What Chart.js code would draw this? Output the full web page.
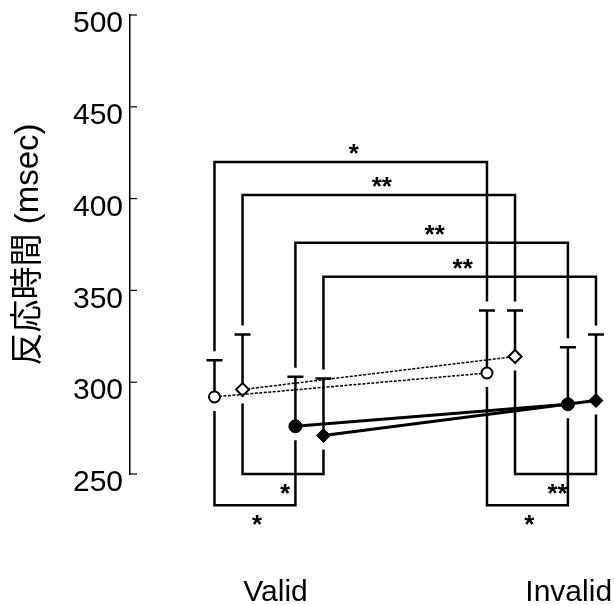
<!DOCTYPE html>
<html><head><meta charset="utf-8">
<script src="https://cdn.jsdelivr.net/npm/chart.js@4.4.0/dist/chart.umd.min.js"></script>
<style>html,body{margin:0;padding:0;background:#fff;}#wrap{width:614px;height:605px;position:relative;}</style>
</head><body><div id="wrap"><canvas id="c" width="614" height="605"></canvas></div>
<script>
// ---- data ----
const conditions = ["Valid", "Invalid"];
const seriesNames = ["Series ○", "Series ◇", "Series ●", "Series ◆"];
const validRT = [292, 296, 276, 271];
const invalidRT = [305, 314, 288, 290];
const validErr = [20, 30, 27, 31];
const invalidErr = [34, 25, 31, 36];
const yTickValues = [250, 300, 350, 400, 450, 500];
// Valid vs Invalid comparisons (one per series)
const condCompLabels = ["*", "**", "**", "**"];
const condCompLevels = [420, 402, 376, 357.5];
// within-condition comparisons: [seriesA, seriesB]
const groupPairs = [[0, 2], [1, 3]];
const groupLevels = [233, 250];
const validPairLabels = ["*", "*"];
const invalidPairLabels = ["*", "**"];

// ---- layout settings ----
const seriesOffset = [-0.2, -0.097, 0.097, 0.2];
const labelShift = [0.024, 0.1];
const styles = [
  {pointStyle: 'circle', bg: '#fff', r: 5.5, lw: 1.5, dash: [3, 1.5], bw: 2},
  {pointStyle: 'rectRot', bg: '#fff', r: 6.5, lw: 1.5, dash: [3, 1.5], bw: 2},
  {pointStyle: 'circle', bg: '#000', r: 6.5, lw: 3, dash: [], bw: 1},
  {pointStyle: 'rectRot', bg: '#000', r: 7, lw: 3, dash: [], bw: 1}
];

const datasets = seriesNames.map((name, i) => ({
  label: name,
  data: [
    {x: 1 + seriesOffset[i], y: validRT[i]},
    {x: 2 + seriesOffset[i], y: invalidRT[i]}
  ],
  borderColor: '#000',
  borderWidth: styles[i].lw,
  borderDash: styles[i].dash,
  pointStyle: styles[i].pointStyle,
  pointRadius: styles[i].r,
  pointBackgroundColor: styles[i].bg,
  pointBorderColor: '#000',
  pointBorderWidth: styles[i].bw,
  showLine: true,
  tension: 0,
  clip: false
}));

function centeredText(ctx, text, x, yc) {
  const m = ctx.measureText(text);
  const asc = m.actualBoundingBoxAscent, desc = m.actualBoundingBoxDescent;
  ctx.fillText(text, x, yc + (asc - desc) / 2);
}

const annotations = {
  id: 'annotations',
  beforeDatasetsDraw(chart) {
    const {ctx} = chart;
    const xs = chart.scales.x, ys = chart.scales.y;
    const px = (cond, s) => xs.getPixelForValue(cond + 1 + seriesOffset[s]);
    const vals = [validRT, invalidRT];
    const errs = [validErr, invalidErr];
    ctx.save();
    ctx.strokeStyle = '#000';
    ctx.lineCap = 'butt';
    // error bars (upward only)
    ctx.lineWidth = 2.5;
    for (let c = 0; c < 2; c++) {
      for (let s = 0; s < 4; s++) {
        const x = px(c, s);
        const y0 = ys.getPixelForValue(vals[c][s]);
        const y1 = ys.getPixelForValue(vals[c][s] + errs[c][s]);
        ctx.beginPath();
        ctx.moveTo(x, y0); ctx.lineTo(x, y1);
        ctx.moveTo(x - 8, y1); ctx.lineTo(x + 8, y1);
        ctx.stroke();
      }
    }
    // top brackets: Valid vs Invalid for each series
    ctx.lineWidth = 2.5;
    ctx.lineJoin = 'miter';
    for (let s = 0; s < 4; s++) {
      const xa = px(0, s), xb = px(1, s);
      const ya = ys.getPixelForValue(validRT[s] + validErr[s]) - 9;
      const yb = ys.getPixelForValue(invalidRT[s] + invalidErr[s]) - 9;
      const yl = ys.getPixelForValue(condCompLevels[s]);
      ctx.beginPath();
      ctx.moveTo(xa, ya); ctx.lineTo(xa, yl); ctx.lineTo(xb, yl); ctx.lineTo(xb, yb);
      ctx.stroke();
    }
    // bottom brackets: between series within a condition
    for (let c = 0; c < 2; c++) {
      groupPairs.forEach((p, k) => {
        const xa = px(c, p[0]), xb = px(c, p[1]);
        const ya = ys.getPixelForValue(vals[c][p[0]]) + 14;
        const yb = ys.getPixelForValue(vals[c][p[1]]) + 14;
        const yl = ys.getPixelForValue(groupLevels[k]);
        ctx.beginPath();
        ctx.moveTo(xa, ya); ctx.lineTo(xa, yl); ctx.lineTo(xb, yl); ctx.lineTo(xb, yb);
        ctx.stroke();
      });
    }
    // y-axis inner tick marks
    ctx.lineWidth = 1.2;
    const left = chart.chartArea.left;
    ys.ticks.forEach(t => {
      const y = ys.getPixelForValue(t.value);
      ctx.beginPath(); ctx.moveTo(left, y); ctx.lineTo(left + 7, y); ctx.stroke();
    });
    // significance labels
    ctx.fillStyle = '#000';
    ctx.font = 'bold 26px "Liberation Sans"';
    ctx.textAlign = 'center';
    ctx.textBaseline = 'alphabetic';
    for (let s = 0; s < 4; s++) {
      const xm = (px(0, s) + px(1, s)) / 2 + 3;
      const yl = ys.getPixelForValue(condCompLevels[s]);
      centeredText(ctx, condCompLabels[s], xm, yl - 13);
    }
    for (let c = 0; c < 2; c++) {
      const labs = c === 0 ? validPairLabels : invalidPairLabels;
      groupPairs.forEach((p, k) => {
        const xm = (px(c, p[0]) + px(c, p[1])) / 2 + 2;
        const yl = ys.getPixelForValue(groupLevels[k]);
        centeredText(ctx, labs[k], xm, yl + 15);
      });
    }
    ctx.restore();
  }
};

new Chart(document.getElementById('c'), {
  type: 'line',
  data: {datasets},
  plugins: [annotations],
  options: {
    responsive: false,
    animation: false,
    events: [],
    layout: {padding: {top: 15, left: 0, right: 8, bottom: 0}},
    plugins: {legend: {display: false}, tooltip: {enabled: false}, title: {display: false}},
    scales: {
      x: {
        type: 'linear', min: 0.49, max: 2.235,
        afterBuildTicks: s => { s.ticks = conditions.map((c, i) => ({value: i + 1 + labelShift[i]})); },
        ticks: {
          callback: (v, i) => conditions[i],
          autoSkip: false, maxRotation: 0, minRotation: 0,
          font: {family: '"Liberation Sans", Arial, sans-serif', size: 30},
          color: '#000', padding: 101
        },
        grid: {display: false, drawTicks: false},
        border: {display: false},
        afterFit: s => { s.height = 131; s.paddingLeft = 0; s.paddingRight = 0; }
      },
      y: {
        type: 'linear', min: 250, max: 500,
        afterBuildTicks: s => { s.ticks = yTickValues.map(v => ({value: v})); },
        ticks: {
          font: {family: '"Liberation Sans", Arial, sans-serif', size: 30, lineHeight: 1},
          color: '#000', padding: 7, labelOffset: 9
        },
        grid: {display: false, drawTicks: false},
        border: {display: true, color: '#000', width: 1.5},
        title: {
          display: true, text: '反応時間 (msec)', color: '#000',
          font: {family: '"Liberation Sans", "Noto Sans CJK JP", sans-serif', size: 33},
          padding: {top: 9, bottom: 0}
        },
        afterFit: s => { s.width = 130; s.paddingTop = 0; s.paddingBottom = 0; }
      }
    }
  }
});
</script></body></html>
